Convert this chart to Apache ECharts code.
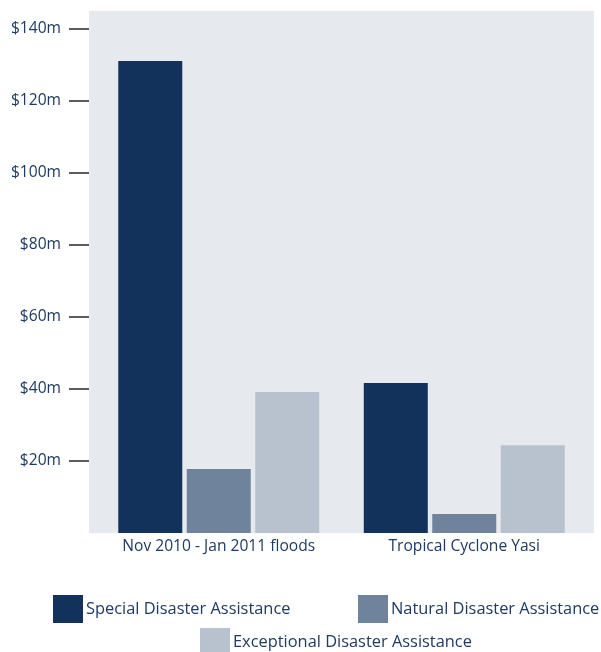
<!DOCTYPE html>
<html>
<head>
<meta charset="utf-8">
<script src="https://cdn.jsdelivr.net/npm/echarts@6/dist/echarts.min.js"></script>
<style>
html,body{margin:0;padding:0;background:#fff;}
#c{width:601px;height:652px;}
</style>
</head>
<body>
<div id="c"></div>
<script>
const categories = ['Nov 2010 - Jan 2011 floods', 'Tropical Cyclone Yasi'];
const seriesNames = ['Special Disaster Assistance', 'Natural Disaster Assistance', 'Exceptional Disaster Assistance'];
const specialValues = [131.1, 41.7];
const naturalValues = [17.8, 5.3];
const exceptionalValues = [39.2, 24.4];
const yTickValues = [20, 40, 60, 80, 100, 120, 140];
const colors = ['#12315b', '#6f839c', '#b8c2ce'];

const FONT = 'Open Sans';
const TEXT = '#1f3a63';

const chart = echarts.init(document.getElementById('c'), null, {renderer: 'canvas'});
const legendStyle = {
  orient: 'horizontal', itemWidth: 30, itemHeight: 28, itemGap: 0, padding: 0,
  icon: 'rect', selectedMode: false,
  textStyle: {fontFamily: FONT, fontSize: 16.4, color: TEXT, padding: [0, 0, 0, -2]}
};
chart.setOption({
  animation: false,
  backgroundColor: '#ffffff',
  color: colors,
  legend: [
    Object.assign({data: [seriesNames[0]], left: 53, top: 595}, legendStyle),
    Object.assign({data: [seriesNames[1]], left: 358, top: 595}, legendStyle),
    Object.assign({data: [seriesNames[2]], left: 200, top: 628}, legendStyle)
  ],
  grid: [
    {left: 89, right: 7, top: 11, bottom: 119, show: true, backgroundColor: '#e6e9ee', borderWidth: 0},
    {left: 96, right: 14, top: 11, bottom: 119}
  ],
  xAxis: [
    {type: 'category', gridIndex: 0, data: categories, show: false},
    {type: 'category', gridIndex: 1, data: categories,
     axisLine: {show: false}, axisTick: {show: false},
     axisLabel: {interval: 0, hideOverlap: false, margin: 6, fontFamily: FONT, fontSize: 15.6, color: TEXT}}
  ],
  yAxis: [
    {type: 'value', gridIndex: 0, min: 0, max: 145, interval: 20,
     axisLine: {show: false},
     axisTick: {show: true, length: 20, customValues: yTickValues, lineStyle: {color: '#333333', width: 1.6}},
     splitLine: {show: false},
     axisLabel: {customValues: yTickValues, margin: 28, fontFamily: FONT, fontSize: 15.6, color: TEXT,
       formatter: v => '$' + v + 'm'}},
    {type: 'value', gridIndex: 1, min: 0, max: 145, show: false, splitLine: {show: false}}
  ],
  series: [
    {name: seriesNames[0], type: 'bar', xAxisIndex: 1, yAxisIndex: 1, data: specialValues, barWidth: 64, barGap: '7%'},
    {name: seriesNames[1], type: 'bar', xAxisIndex: 1, yAxisIndex: 1, data: naturalValues, barWidth: 64, barGap: '7%'},
    {name: seriesNames[2], type: 'bar', xAxisIndex: 1, yAxisIndex: 1, data: exceptionalValues, barWidth: 64, barGap: '7%'}
  ]
});
</script>
</body>
</html>
